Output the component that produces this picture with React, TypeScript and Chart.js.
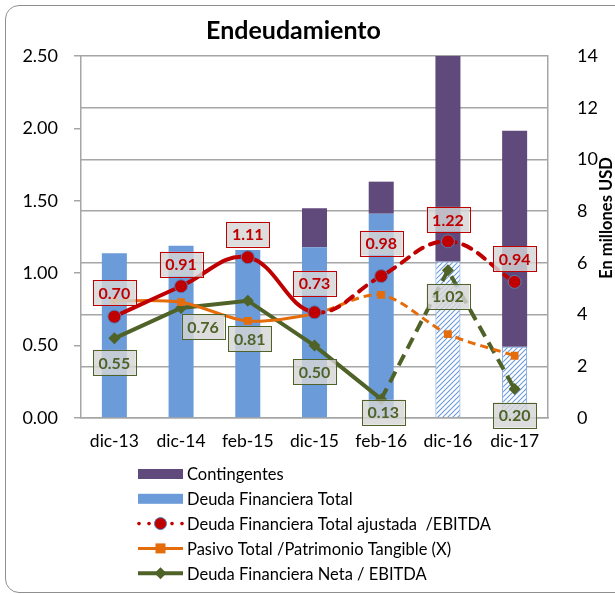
import React, { useEffect, useRef } from 'react';
import { Chart, registerables } from 'chart.js';

Chart.register(...registerables);

// ---------- data ----------
const categories = ['dic-13', 'dic-14', 'feb-15', 'dic-15', 'feb-16', 'dic-16', 'dic-17'];
const deudaFinancieraTotal = [6.37, 6.66, 6.5, 6.6, 7.9, 6.05, 2.76];
const contingentes = [null, null, null, 1.51, 1.24, 8.3, 8.35];
const deudaAjustadaEbitda = [0.7, 0.91, 1.11, 0.73, 0.98, 1.22, 0.94];
const pasivoPatrimonio = [0.81, 0.8, 0.67, 0.72, 0.85, 0.58, 0.43];
const deudaNetaEbitda = [0.55, 0.76, 0.81, 0.5, 0.13, 1.02, 0.2];
const estimatedFrom = 5; // index from which bars are hatched (estimated)

const chartTitle = 'Endeudamiento';
const rightAxisTitle = 'En millones USD';
const leftTickStep = 0.5;
const rightTickStep = 2;

// ---------- styles ----------
const PURPLE = '#5f4a7b';
const BLUE = '#6b9bd9';
const RED = '#c00000';
const ORANGE = '#e46c0a';
const GREEN = '#4f6228';
const FONT = 'Lato, "Open Sans", sans-serif';

// label offsets (layout only)
const labelLayout: Record<string, { color: string; dx: number[]; dy: number[] }> = {
  red: { color: RED, dx: [0, 0, 0, 0, 0, 0, 0], dy: [-24, -22, -23, -29, -33, -22, -23] },
  green: { color: GREEN, dx: [0, 22, 2, 0, 2, 0, 0], dy: [24, 19, 38, 26, 13, 26, 26] },
};

function makeHatch(ctx: CanvasRenderingContext2D) {
  const c = document.createElement('canvas');
  c.width = 5;
  c.height = 5;
  const g = c.getContext('2d')!;
  g.fillStyle = '#ffffff';
  g.fillRect(0, 0, 5, 5);
  g.strokeStyle = BLUE;
  g.lineWidth = 1.1;
  g.beginPath();
  g.moveTo(0, 5);
  g.lineTo(5, 0);
  g.moveTo(-1, 1);
  g.lineTo(1, -1);
  g.moveTo(4, 6);
  g.lineTo(6, 4);
  g.stroke();
  return ctx.createPattern(c, 'repeat')!;
}

const pointLabelPlugin = {
  id: 'pointLabels',
  afterDatasetsDraw(chart: any) {
    const ctx = chart.ctx as CanvasRenderingContext2D;
    chart.data.datasets.forEach((ds: any, di: number) => {
      const key = ds.labelKey;
      if (!key) return;
      const cfg = labelLayout[key];
      const meta = chart.getDatasetMeta(di);
      ctx.save();
      ctx.font = `bold 16px ${FONT}`;
      ctx.textAlign = 'center';
      ctx.textBaseline = 'middle';
      meta.data.forEach((pt: any, i: number) => {
        const text = Number(ds.data[i]).toFixed(2);
        const w = ctx.measureText(text).width + 11;
        const h = 25;
        const cx = pt.x + cfg.dx[i];
        const cy = pt.y + cfg.dy[i];
        ctx.fillStyle = 'rgba(214,214,214,0.82)';
        ctx.fillRect(cx - w / 2, cy - h / 2, w, h);
        ctx.strokeStyle = cfg.color;
        ctx.lineWidth = 1;
        ctx.strokeRect(Math.round(cx - w / 2) + 0.5, Math.round(cy - h / 2) + 0.5, Math.round(w), h);
        ctx.fillStyle = cfg.color;
        ctx.fillText(text, cx, cy + 1);
      });
      ctx.restore();
    });
  },
};

const legendItems = [
  { text: 'Contingentes', kind: 'bar', color: PURPLE },
  { text: 'Deuda Financiera Total', kind: 'bar', color: BLUE },
  { text: 'Deuda Financiera Total ajustada  /EBITDA', kind: 'dots', color: RED },
  { text: 'Pasivo Total /Patrimonio Tangible (X)', kind: 'square', color: ORANGE },
  { text: 'Deuda Financiera Neta / EBITDA', kind: 'diamond', color: GREEN },
];

const customLegendPlugin = {
  id: 'customLegend',
  afterDraw(chart: any) {
    const ctx = chart.ctx as CanvasRenderingContext2D;
    const x0 = 138;
    const symW = 45;
    const y0 = chart.chartArea.bottom + 56;
    const step = 24.8;
    ctx.save();
    legendItems.forEach((it, i) => {
      const y = y0 + i * step;
      const cx = x0 + symW / 2;
      if (it.kind === 'bar') {
        ctx.fillStyle = it.color;
        ctx.fillRect(x0, y - 5, symW, 10);
      } else if (it.kind === 'dots') {
        ctx.fillStyle = it.color;
        [x0 + 1, x0 + 11, x0 + 34, x0 + 44].forEach((dx) => {
          ctx.beginPath();
          ctx.arc(dx, y, 1.8, 0, Math.PI * 2);
          ctx.fill();
        });
        ctx.beginPath();
        ctx.arc(cx, y, 6, 0, Math.PI * 2);
        ctx.fill();
        ctx.strokeStyle = '#4f81bd';
        ctx.lineWidth = 1;
        ctx.stroke();
      } else if (it.kind === 'square') {
        ctx.strokeStyle = it.color;
        ctx.lineWidth = 3;
        ctx.beginPath();
        ctx.moveTo(x0, y);
        ctx.lineTo(x0 + symW, y);
        ctx.stroke();
        ctx.fillStyle = it.color;
        ctx.fillRect(cx - 5, y - 5, 10, 10);
      } else {
        ctx.strokeStyle = it.color;
        ctx.lineWidth = 4;
        ctx.beginPath();
        ctx.moveTo(x0, y);
        ctx.lineTo(x0 + symW, y);
        ctx.stroke();
        ctx.fillStyle = it.color;
        ctx.beginPath();
        ctx.moveTo(cx, y - 6);
        ctx.lineTo(cx + 6, y);
        ctx.lineTo(cx, y + 6);
        ctx.lineTo(cx - 6, y);
        ctx.closePath();
        ctx.fill();
      }
      ctx.fillStyle = '#000';
      ctx.font = `16.5px ${FONT}`;
      ctx.textAlign = 'left';
      ctx.textBaseline = 'middle';
      ctx.fillText(it.text, x0 + symW + 4, y + 1);
    });
    ctx.restore();
  },
};

const titlesPlugin = {
  id: 'titles',
  afterDraw(chart: any) {
    const ctx = chart.ctx as CanvasRenderingContext2D;
    const area = chart.chartArea;
    ctx.save();
    ctx.fillStyle = '#000';
    ctx.textAlign = 'center';
    ctx.textBaseline = 'middle';
    ctx.font = `bold 25px ${FONT}`;
    ctx.fillText(chartTitle, (area.left + area.right) / 2 - 21, area.top - 25);
    ctx.translate(area.right + 59, (area.top + area.bottom) / 2 - 19);
    ctx.rotate(-Math.PI / 2);
    ctx.font = `bold 16.5px ${FONT}`;
    ctx.fillText(rightAxisTitle, 0, 0);
    ctx.restore();
  },
};

export default function App() {
  const ref = useRef<HTMLCanvasElement | null>(null);

  useEffect(() => {
    const canvas = ref.current!;
    const ctx = canvas.getContext('2d')!;
    const hatch = makeHatch(ctx);
    Chart.defaults.font.family = FONT;
    Chart.defaults.color = '#000';

    const blueBg = deudaFinancieraTotal.map((_, i) => (i >= estimatedFrom ? hatch : BLUE));
    const blueBorder = deudaFinancieraTotal.map((_, i) => (i >= estimatedFrom ? 1 : 0));
    const dashFrom = (idx: number, dash: number[]) => (c: any) => (c.p0DataIndex >= idx ? dash : undefined);

    const chart = new Chart(ctx, {
      data: {
        labels: categories,
        datasets: [
          {
            type: 'line',
            label: 'Deuda Financiera Total ajustada  /EBITDA',
            data: deudaAjustadaEbitda,
            yAxisID: 'y',
            borderColor: RED,
            borderWidth: 4,
            tension: 0.4,
            pointStyle: 'circle',
            pointRadius: 6.5,
            pointBackgroundColor: RED,
            pointBorderColor: '#4f81bd',
            pointBorderWidth: 1,
            borderCapStyle: 'round',
            segment: { borderDash: dashFrom(3, [9, 8]) },
            order: 0,
            labelKey: 'red',
          } as any,
          {
            type: 'line',
            label: 'Pasivo Total /Patrimonio Tangible (X)',
            data: pasivoPatrimonio,
            yAxisID: 'y',
            borderColor: ORANGE,
            borderWidth: 3,
            tension: 0.3,
            pointStyle: 'rect',
            pointRadius: 5.5,
            pointBackgroundColor: ORANGE,
            pointBorderColor: ORANGE,
            pointBorderWidth: 0,
            segment: { borderDash: dashFrom(3, [8, 5]) },
            order: 1,
          } as any,
          {
            type: 'line',
            label: 'Deuda Financiera Neta / EBITDA',
            data: deudaNetaEbitda,
            yAxisID: 'y',
            borderColor: GREEN,
            borderWidth: 4,
            tension: 0,
            pointStyle: 'rectRot',
            pointRadius: 6,
            pointBackgroundColor: GREEN,
            pointBorderColor: GREEN,
            pointBorderWidth: 0,
            segment: { borderDash: dashFrom(4, [12, 7]) },
            order: 2,
            labelKey: 'green',
          } as any,
          {
            type: 'bar',
            label: 'Deuda Financiera Total',
            data: deudaFinancieraTotal,
            yAxisID: 'y2',
            backgroundColor: blueBg as any,
            borderColor: BLUE,
            borderWidth: blueBorder as any,
            barPercentage: 0.375,
            categoryPercentage: 1,
            stack: 'deuda',
            order: 5,
            clip: 0,
          } as any,
          {
            type: 'bar',
            label: 'Contingentes',
            data: contingentes,
            yAxisID: 'y2',
            backgroundColor: PURPLE,
            borderWidth: 0,
            barPercentage: 0.375,
            categoryPercentage: 1,
            stack: 'deuda',
            order: 5,
            clip: 0,
          } as any,
        ],
      },
      options: {
        responsive: false,
        animation: false,
        layout: { padding: { top: 56, bottom: 136, left: 0, right: 0 } },
        plugins: {
          legend: { display: false },
          tooltip: { enabled: false },
          title: { display: false },
        },
        scales: {
          x: {
            stacked: true,
            offset: true,
            grid: { display: false, drawTicks: false },
            border: { display: true, color: '#a6a6a6', width: 1.5 },
            ticks: { font: { size: 17.5, family: FONT }, padding: 13, color: '#000' },
            afterFit: (s: any) => {
              s.height = 40;
            },
          },
          y: {
            position: 'left',
            min: 0,
            max: 2.5,
            ticks: {
              stepSize: leftTickStep,
              font: { size: 18, family: FONT },
              padding: 16,
              color: '#000',
              callback: (v: any) => Number(v).toFixed(2),
            },
            grid: { drawOnChartArea: false, drawTicks: true, tickLength: 7, color: '#a6a6a6', lineWidth: 1.5 },
            border: { display: true, color: '#a6a6a6', width: 1.5 },
            afterFit: (s: any) => {
              s.width = 81;
            },
          },
          y2: {
            position: 'right',
            stacked: true,
            min: 0,
            max: 14,
            ticks: { stepSize: rightTickStep, font: { size: 18, family: FONT }, padding: 29, color: '#000' },
            grid: { drawOnChartArea: true, drawTicks: false, color: '#a6a6a6', lineWidth: 1.5 },
            border: { display: true, color: '#a6a6a6', width: 1.5 },
            afterFit: (s: any) => {
              s.width = 67;
            },
          },
        },
      } as any,
      plugins: [pointLabelPlugin, customLegendPlugin, titlesPlugin],
    });
    return () => chart.destroy();
  }, []);

  return (
    <div style={{ position: 'fixed', left: 0, top: 0, width: 615, height: 594, overflow: 'hidden', background: '#fff' }}>
      <canvas ref={ref} width={615} height={594} style={{ position: 'absolute', left: 0, top: 0 }} />
      <div
        style={{
          position: 'absolute',
          left: 5,
          top: 5,
          width: 640,
          height: 588,
          boxSizing: 'border-box',
          border: '1px solid #8f8f8f',
          borderRadius: 14,
          pointerEvents: 'none',
        }}
      />
    </div>
  );
}
